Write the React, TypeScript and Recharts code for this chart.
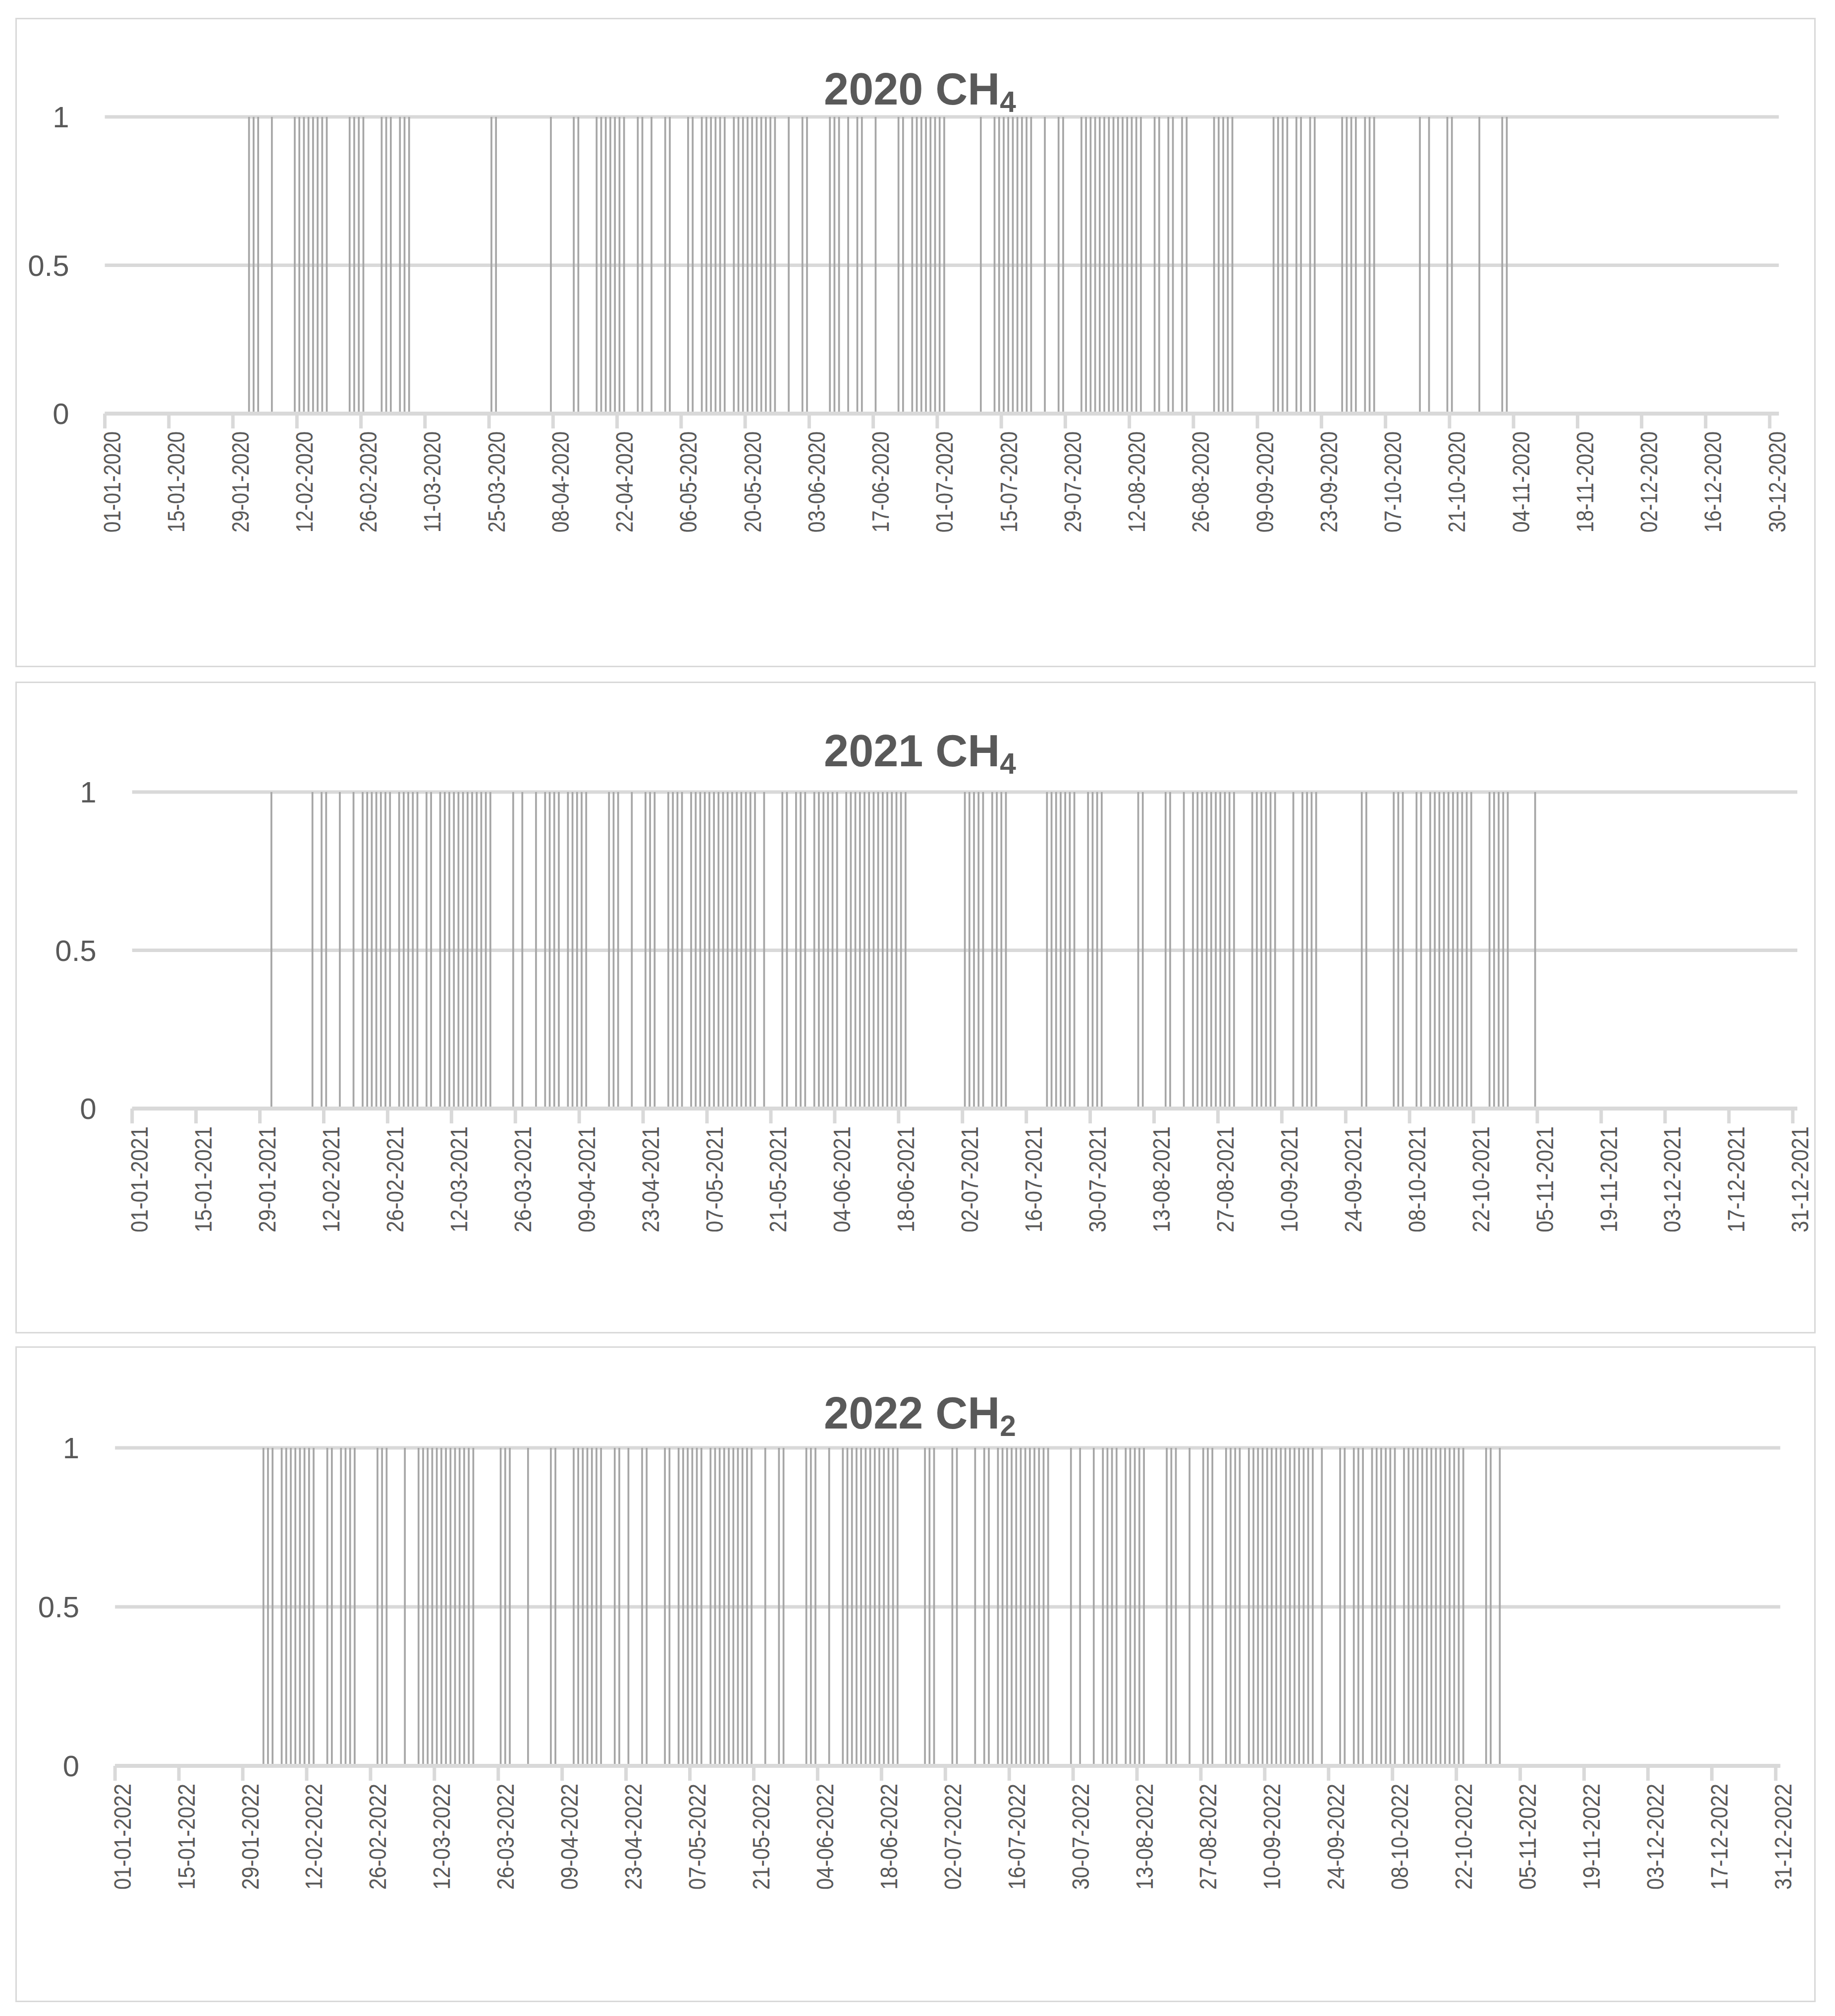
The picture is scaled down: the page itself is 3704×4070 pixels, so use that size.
import React from 'react'
import { BarChart, Bar, XAxis, YAxis, CartesianGrid } from 'recharts'

// days with a detection, counted from 1 January (0 = 01-01)
const days2020 = [
  31, 32, 33, 36, 41, 42, 43, 44, 45, 46, 47, 48, 53, 54, 55, 56, 60, 61, 62, 64, 65, 66, 84, 85, 97,
  102, 103, 107, 108, 109, 110, 111, 112, 113, 116, 117, 119, 122, 123, 127, 128, 130, 131, 132, 133,
  134, 135, 137, 138, 139, 140, 141, 142, 143, 144, 145, 146, 149, 152, 153, 158, 159, 160, 162, 164,
  165, 168, 173, 174, 176, 177, 178, 179, 180, 181, 182, 183, 191, 194, 195, 196, 197, 198, 199, 200,
  201, 202, 205, 208, 209, 213, 214, 215, 216, 217, 218, 219, 220, 221, 222, 223, 224, 225, 226, 229,
  230, 232, 233, 235, 236, 242, 243, 244, 245, 246, 255, 256, 257, 258, 260, 261, 263, 264, 270, 271,
  272, 273, 275, 276, 277, 287, 289, 293, 294, 300, 305, 306,
]

const days2021 = [
  30, 39, 41, 42, 45, 48, 50, 51, 52, 53, 54, 55, 56, 58, 59, 60, 61, 62, 64, 65, 67, 68, 69, 70, 71,
  72, 73, 74, 75, 76, 77, 78, 83, 85, 88, 90, 91, 92, 93, 95, 96, 97, 98, 99, 104, 105, 106, 109, 112,
  113, 114, 117, 118, 119, 120, 122, 123, 124, 125, 126, 127, 128, 129, 130, 131, 132, 133, 134, 135,
  136, 138, 142, 143, 145, 146, 147, 149, 150, 151, 152, 153, 154, 156, 157, 158, 159, 160, 161, 162,
  163, 164, 165, 166, 167, 168, 169, 182, 183, 184, 185, 186, 188, 189, 190, 191, 200, 201, 202, 203,
  204, 205, 206, 209, 210, 211, 212, 220, 221, 226, 227, 230, 232, 233, 234, 235, 236, 237, 238, 239,
  240, 241, 245, 246, 247, 248, 249, 250, 254, 256, 257, 258, 259, 269, 270, 276, 277, 278, 281, 282,
  284, 285, 286, 287, 288, 289, 290, 291, 292, 293, 297, 298, 299, 300, 301, 307,
]

const days2022 = [
  32, 33, 34, 36, 37, 38, 39, 40, 41, 42, 43, 46, 47, 49, 50, 51, 52, 57, 58, 59, 63, 66, 67, 68, 69,
  70, 71, 72, 73, 74, 75, 76, 77, 78, 84, 85, 86, 90, 95, 96, 100, 101, 102, 103, 104, 105, 106, 109,
  110, 112, 115, 116, 120, 121, 123, 124, 125, 126, 127, 128, 130, 131, 132, 133, 134, 135, 136, 137,
  138, 139, 142, 145, 146, 151, 152, 153, 156, 159, 160, 161, 162, 163, 164, 165, 166, 167, 168, 169,
  170, 171, 177, 178, 179, 183, 184, 188, 190, 191, 193, 194, 195, 196, 197, 198, 199, 200, 201, 202,
  203, 204, 209, 211, 214, 216, 217, 218, 219, 221, 222, 223, 224, 225, 230, 231, 232, 235, 238, 239,
  240, 243, 244, 245, 246, 248, 249, 250, 251, 252, 253, 254, 255, 256, 257, 258, 259, 260, 261, 262,
  264, 268, 269, 271, 272, 273, 275, 276, 277, 278, 279, 280, 282, 283, 284, 285, 286, 287, 288, 289,
  290, 291, 292, 293, 294, 295, 300, 301, 303,
]

// date axis ticks every 14 days from 01-01
const xTickDays = [0, 14, 28, 42, 56, 70, 84, 98, 112, 126, 140, 154, 168, 182, 196, 210, 224, 238, 252, 266, 280, 294, 308, 322, 336, 350, 364]
const yTicks = [0, 0.5, 1]

const GRID = '#d9d9d9'
const INK = '#595959'
const BAR = '#a6a6a6'
const FONT = '"Liberation Sans", Arial, sans-serif'

const panels = [
  { year: 2020, gas: 'CH', sub: '4', days: days2020, span: 366, top: 36, height: 1311, plotTop: 236, plotBottom: 835, plotLeft: 211.6, plotRight: 3590.6, titleY: 180, labelLen: 204 },
  { year: 2021, gas: 'CH', sub: '4', days: days2021, span: 365, top: 1376, height: 1316, plotTop: 1599, plotBottom: 2238, plotLeft: 266.7, plotRight: 3628, titleY: 1516, labelLen: 214 },
  { year: 2022, gas: 'CH', sub: '2', days: days2022, span: 365, top: 2718, height: 1324, plotTop: 2923, plotBottom: 3565, plotLeft: 232.2, plotRight: 3593.5, titleY: 2853, labelLen: 214 },
]

const pad = (n: number) => (n < 10 ? '0' + n : '' + n)
const dateLabel = (year: number, day: number) => {
  const d = new Date(Date.UTC(year, 0, 1 + day))
  return `${pad(d.getUTCDate())}-${pad(d.getUTCMonth() + 1)}-${d.getUTCFullYear()}`
}

function Panel({ p }: { p: (typeof panels)[number] }) {
  const data = p.days.map(d => ({ day: d + 0.5, v: 1 }))
  const xAxisH = p.top + p.height - p.plotBottom - 10

  // Calibri-like narrow labels: a bigger face squeezed to the label length
  const DateTick = ({ x, y, payload }: any) => {
    const cx = x + 15
    return (
      <text
        x={cx}
        y={y}
        transform={`rotate(-90, ${cx}, ${y})`}
        textAnchor="end"
        dominantBaseline="central"
        fill={INK}
        fontSize={48}
        fontFamily={FONT}
        textLength={p.labelLen}
        lengthAdjust="spacingAndGlyphs"
      >
        {dateLabel(p.year, payload.value)}
      </text>
    )
  }

  return (
    <>
      <div
        style={{
          position: 'absolute',
          left: 31,
          top: p.top,
          width: 3634,
          height: p.height,
          border: `3px solid ${GRID}`,
          boxSizing: 'border-box',
          background: '#fff',
        }}
      />
      <div style={{ position: 'absolute', left: 0, top: p.top }}>
        <BarChart
          width={3704}
          height={p.height}
          data={data}
          margin={{ top: p.plotTop - p.top, right: 3704 - p.plotRight, bottom: 10, left: p.plotLeft - 100 }}
        >
          <CartesianGrid horizontal vertical={false} stroke={GRID} strokeWidth={7} />
          <XAxis
            type="number"
            dataKey="day"
            domain={[0, p.span]}
            ticks={xTickDays}
            interval={0}
            allowDataOverflow
            height={xAxisH}
            axisLine={{ stroke: GRID, strokeWidth: 8 }}
            tickLine={{ stroke: GRID, strokeWidth: 7 }}
            tickSize={30}
            tickMargin={6}
            tick={<DateTick />}
          />
          <YAxis
            type="number"
            domain={[0, 1]}
            ticks={yTicks}
            width={100}
            axisLine={false}
            tickLine={false}
            tickSize={0}
            tickMargin={72}
            tick={{ fill: INK, fontSize: 60, fontFamily: FONT }}
          />
          <Bar dataKey="v" fill={BAR} barSize={3.7} isAnimationActive={false} />
        </BarChart>
      </div>
      <div
        style={{
          position: 'absolute',
          left: 40,
          width: 3634,
          top: p.titleY - 45,
          textAlign: 'center',
          fontFamily: FONT,
          fontWeight: 'bold',
          fontSize: 90,
          lineHeight: 1,
          color: INK,
        }}
      >
        {p.year} {p.gas}
        <sub style={{ fontSize: '0.65em', verticalAlign: '-0.25em' }}>{p.sub}</sub>
      </div>
    </>
  )
}

export default function App() {
  return (
    <div style={{ position: 'absolute', left: 0, top: 0, width: 3704, height: 4070, background: '#fff' }}>
      {panels.map(p => (
        <Panel key={p.year} p={p} />
      ))}
    </div>
  )
}
